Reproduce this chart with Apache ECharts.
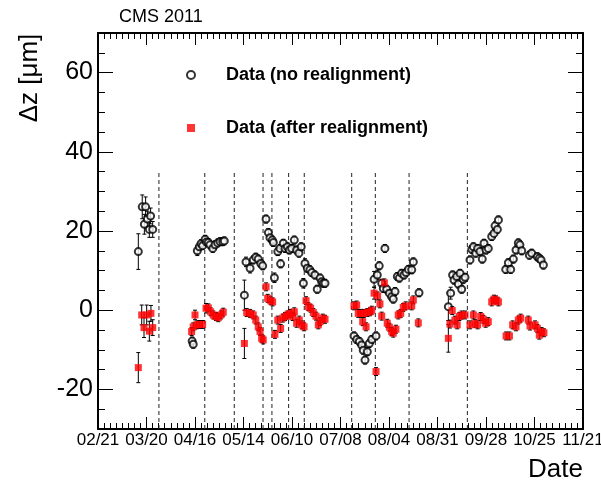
<!DOCTYPE html>
<html><head><meta charset="utf-8">
<script src="https://cdn.jsdelivr.net/npm/echarts@6/dist/echarts.min.js"></script>
<style>html,body{margin:0;padding:0;background:#fff}#c{width:601px;height:492px}</style>
</head><body><div id="c"></div>
<script>
// x = days since 02/21/2011
const tickLabels = ['02/21','03/20','04/16','05/14','06/10','07/08','08/04','08/31','09/28','10/25','11/21'];

const noRealignDays = [
  22.7,24.9,26.1,26.8,27.8,28.9,29.6,30.8,
  53.0,53.6,55.9,57.0,58.0,58.9,60.3,61.0,62.1,63.0,64.6,65.9,67.4,68.7,70.2,71.1,
  82.4,83.3,85.6,87.4,88.8,90.2,91.6,92.7,
  94.6,95.9,96.8,98.1,98.7,99.3,101.2,102.4,102.8,104.3,105.3,106.6,107.7,109.0,110.5,111.8,113.1,114.4,115.6,116.5,117.8,119.3,120.3,122.1,123.4,125.0,125.9,126.8,127.8,
  144.1,145.6,147.1,148.4,149.3,150.3,151.6,152.7,154.1,155.4,156.5,157.2,158.3,159.7,160.6,161.5,162.5,164.0,165.3,166.2,167.2,168.5,169.6,170.9,172.2,173.4,174.7,176.6,177.5,180.7,
  197.2,198.5,199.6,200.4,201.9,202.8,203.8,204.7,205.6,206.6,209.4,210.4,211.3,212.6,213.7,215.0,216.3,217.3,218.4,219.7,221.6,222.9,223.5,224.8,225.4,229.5,231.0,232.3,233.8,235.3,236.6,237.5,238.5,242.8,244.1,247.3,248.4,249.4,250.7
];
const noRealignValues = [
  14.8,26.1,21.7,26.1,23.0,20.4,23.8,20.4,
  -7.8,-8.6,15.0,16.0,16.8,16.3,17.9,17.2,17.1,16.5,15.6,16.5,17.0,17.3,17.3,17.5,
  3.8,12.2,10.6,12.7,13.4,12.9,11.8,11.2,
  23.0,19.6,18.3,17.7,17.1,8.2,14.8,15.6,11.7,16.9,15.6,16.0,15.2,15.6,17.7,15.2,14.4,16.0,6.8,11.8,10.6,10.2,9.5,8.9,5.3,8.1,7.2,6.8,6.8,
  -6.5,-7.4,-7.9,-8.8,-10.1,-12.6,-10.5,-8.4,-7.4,7.8,-6.5,8.9,11.2,6.8,5.5,15.6,5.3,4.3,3.4,2.8,4.7,8.5,8.1,9.3,8.9,9.5,10.3,10.2,12.2,4.4,
  0.9,4.3,8.9,7.6,8.5,6.6,9.3,5.3,7.8,8.3,12.7,15.4,16.0,14.4,15.6,14.8,12.9,16.9,15.2,15.6,18.6,19.4,21.3,20.4,22.8,10.3,12.0,10.3,12.9,15.2,17.0,16.5,15.0,13.9,14.4,13.5,13.1,12.7,11.4
];
const noRealignErrors = [
  4.5,3.0,2.5,2.5,2.0,2.0,2.0,2.0,
  1,1,1.2,1,1,1,1,1,1,1,1,1,1,1,1,1,
  3.8,1.2,1.2,1,1,1,1,1,
  1,1,1,1,1,1.2,1,1,1,1,1,1,1,1,1,1,1,1,1.2,1.2,1,1,1,1,1,1,1,1,1,
  1,1,1,1,1,1,1,1,1,2.0,1,1.2,1,1,1,1,1,1,1,1,1,1,1,1,1,1,1,1,1,1,
  3.5,1.5,1,1,1,1,1,1,1,1,1,1,1,1,1,1,1,1,1,1,1,1,1,1,1,1,1,1,1,1,1,1,1,1,1,1,1,1,1
];

const afterRealignDays = [
  22.7,24.6,25.9,27.4,28.9,29.8,30.8,
  52.7,53.6,54.6,55.5,57.0,58.9,60.8,62.1,63.4,64.9,66.4,67.7,69.2,70.5,
  82.4,83.7,85.6,87.4,88.8,90.2,91.2,92.1,93.0,
  94.6,95.5,97.2,98.3,99.6,101.2,102.8,104.0,105.3,106.6,108.1,109.6,110.5,111.8,113.3,114.7,116.0,117.1,118.4,119.7,121.2,122.7,124.0,125.0,126.5,127.8,
  144.1,145.6,146.5,147.9,149.0,149.7,150.9,151.6,153.1,154.1,155.4,156.5,157.4,158.7,159.7,161.2,162.8,164.0,165.3,166.2,167.7,169.0,170.4,171.8,173.2,176.6,177.5,180.3,
  197.2,198.1,199.4,200.9,202.2,203.4,204.7,206.6,209.4,211.3,212.2,213.7,215.4,216.9,218.2,219.7,221.6,222.9,224.0,225.4,229.7,231.6,233.4,235.3,236.6,237.9,242.2,243.2,246.0,247.3,248.4,249.7,251.0
];
const afterRealignValues = [
  -14.5,-1.2,-4.4,-1.2,-5.3,-0.8,-4.4,
  -5.4,-4.2,-1.2,-3.7,-3.6,-3.6,0.5,0.6,-0.4,-1.2,-1.6,-1.9,-1.2,-0.5,
  -8.4,-0.6,-0.8,-1.2,-2.5,-4.2,-5.4,-7.1,-7.5,
  5.9,3.0,2.4,2.1,-6.1,-2.5,-4.6,-2.0,-1.6,-1.2,-0.8,-1.6,-0.4,-3.3,-2.5,-3.7,-4.2,2.4,0.9,0.5,-0.6,-1.5,-3.7,-2.9,-2.0,-2.3,
  1.1,1.3,-0.8,-0.8,-2.9,-0.8,-4.2,-0.6,-0.4,0.0,4.3,-15.5,3.6,1.6,-1.5,6.9,-3.3,-4.3,-5.4,-5.8,-4.8,-1.2,-0.8,0.7,1.1,1.1,2.6,-3.2,
  -7.1,-3.5,-0.1,-2.5,-3.7,-1.6,-1.2,-1.2,-3.7,-1.2,-3.3,-3.7,-1.6,-2.3,-3.3,-2.9,2.1,2.8,2.6,2.1,-6.5,-6.5,-3.7,-4.2,-2.5,-2.0,-2.5,-4.0,-3.7,-4.6,-6.3,-5.4,-5.7
];
const afterRealignErrors = [
  3.8,2.5,2.5,2.5,2.5,2.0,2.0,
  1,1,1.2,1,1,1,1.2,1,1,1,1,1,1,1,
  3.8,1,1,1,1,1,1,1,1,
  1,1,1,1,1,1,1,1,1,1,1,1,1,1,1,1,1,1,1,1,1,1,1,1,1,1,
  1,1,1,1,1,1,1,1,1,1,1.5,1,1,1,1,1,1,1,1,1,1,1,1,1,1,1,1,1,
  3.5,1,1,1,1,1,1,1,1,1,1,1,1,1,1,1,1,1,1,1,1,1,1,1,1,1,1,1,1,1,1,1,1
];

// vertical dashed separators (days) and their vertical extent (µm)
const separatorDays = [34.3,60.1,76.7,92.9,97.9,107.3,116.1,142.8,156.1,175.1,207.9];
const separatorRange = [-30, 35];

const FONT = 'Liberation Sans, Arial, Helvetica, sans-serif';
const chart = echarts.init(document.getElementById('c'), null, {renderer: 'canvas'});

function pairs(xs, ys) { return xs.map((x, i) => [x, ys[i]]); }
function triples(xs, ys, es) { return xs.map((x, i) => [x, ys[i], es[i]]); }

function errRender(params, api) {
  const x = api.value(0), y = api.value(1), e = api.value(2);
  const lo = api.coord([x, y - e]), hi = api.coord([x, y + e]);
  const c = 2;
  const style = {stroke: '#000', lineWidth: 1};
  return {type: 'group', children: [
    {type: 'line', shape: {x1: lo[0], y1: lo[1], x2: hi[0], y2: hi[1]}, style},
    {type: 'line', shape: {x1: lo[0] - c, y1: lo[1], x2: lo[0] + c, y2: lo[1]}, style},
    {type: 'line', shape: {x1: hi[0] - c, y1: hi[1], x2: hi[0] + c, y2: hi[1]}, style}
  ]};
}
function sepRender(params, api) {
  const x = api.value(0);
  const a = api.coord([x, separatorRange[0]]), b = api.coord([x, separatorRange[1]]);
  return {type: 'line', shape: {x1: a[0], y1: a[1], x2: b[0], y2: b[1]},
    style: {stroke: '#222', lineWidth: 1, lineDash: [4, 3]}};
}

const tickStyle = {color: '#000', width: 1};
const xBase = {
  type: 'value', min: 0, max: 273, interval: 27.3, gridIndex: 0,
  axisLine: {show: true, onZero: false, lineStyle: {color: '#000', width: 2}},
  axisTick: {show: true, inside: true, length: 12, lineStyle: tickStyle},
  minorTick: {show: true, splitNumber: 8, length: 6, lineStyle: tickStyle},
  splitLine: {show: false}, minorSplitLine: {show: false}
};
const yMinor = {
  type: 'value', min: -30, max: 70, interval: 5, gridIndex: 0,
  axisLine: {show: true, onZero: false, lineStyle: {color: '#000', width: 2}},
  axisTick: {show: true, inside: true, length: 7, lineStyle: tickStyle},
  axisLabel: {show: false}, splitLine: {show: false}
};
const yMajor = {
  type: 'value', min: -20, max: 60, interval: 20, gridIndex: 1,
  axisLine: {show: false, onZero: false},
  axisTick: {show: true, inside: true, length: 15, lineStyle: tickStyle},
  splitLine: {show: false}
};

chart.setOption({
  animation: false,
  backgroundColor: '#fff',
  title: {text: 'CMS 2011', left: 114, top: 3,
    textStyle: {fontSize: 18, fontWeight: 'normal', color: '#000', fontFamily: FONT}},
  legend: {
    orient: 'vertical', left: 186, top: 65, padding: 0,
    itemWidth: 8, itemHeight: 8, itemGap: 33, selectedMode: false,
    textStyle: {fontSize: 18, fontWeight: 'bold', color: '#000', fontFamily: FONT, padding: [0, 0, 0, 26], lineHeight: 20},
    data: ['Data (no realignment)', 'Data (after realignment)']
  },
  grid: [
    {left: 98, right: 18, top: 33, bottom: 63, containLabel: false, outerBoundsMode: 'none'},
    {left: 98, right: 18, top: 72.6, bottom: 102.6, containLabel: false, outerBoundsMode: 'none'}
  ],
  xAxis: [
    Object.assign({}, xBase, {position: 'bottom',
      axisLabel: {show: true, margin: 3, fontSize: 17, color: '#000', fontFamily: FONT,
        showMinLabel: true, showMaxLabel: true,
        formatter: v => { const i = Math.round(v / 27.3); return tickLabels[i] || ''; }}}),
    Object.assign({}, xBase, {position: 'top', axisLabel: {show: false}}),
    {type: 'value', gridIndex: 1, min: 0, max: 273, show: false}
  ],
  yAxis: [
    Object.assign({}, yMinor, {position: 'left'}),
    Object.assign({}, yMinor, {position: 'right'}),
    Object.assign({}, yMajor, {position: 'left',
      axisLabel: {show: true, margin: 5, fontSize: 25, color: '#000', fontFamily: FONT}}),
    Object.assign({}, yMajor, {position: 'right', axisLabel: {show: false}})
  ],
  graphic: [
    {type: 'text', x: 30, y: 78, rotation: Math.PI / 2,
      style: {text: 'Δz [μm]', align: 'center', verticalAlign: 'middle', fontSize: 26, fontFamily: FONT, fill: '#000'}},
    {type: 'text', x: 583, y: 470,
      style: {text: 'Date', align: 'right', verticalAlign: 'middle', fontSize: 26, fontFamily: FONT, fill: '#000'}}
  ],
  series: [
    {type: 'custom', name: 'separators', xAxisIndex: 0, yAxisIndex: 0, renderItem: sepRender,
      data: separatorDays.map(d => [d]), encode: {x: 0}, z: 1, silent: true},
    {type: 'custom', name: 'err-no', xAxisIndex: 0, yAxisIndex: 0, renderItem: errRender,
      data: triples(noRealignDays, noRealignValues, noRealignErrors), encode: {x: 0, y: 1}, z: 2, silent: true},
    {type: 'scatter', name: 'Data (no realignment)', xAxisIndex: 0, yAxisIndex: 0,
      symbol: 'emptyCircle', symbolSize: 7,
      itemStyle: {color: '#000', borderColor: '#000', borderWidth: 1},
      data: pairs(noRealignDays, noRealignValues), z: 3},
    {type: 'custom', name: 'err-after', xAxisIndex: 0, yAxisIndex: 0, renderItem: errRender,
      data: triples(afterRealignDays, afterRealignValues, afterRealignErrors), encode: {x: 0, y: 1}, z: 4, silent: true},
    {type: 'scatter', name: 'Data (after realignment)', xAxisIndex: 0, yAxisIndex: 0,
      symbol: 'rect', symbolSize: 7,
      itemStyle: {color: '#ff0000'},
      data: pairs(afterRealignDays, afterRealignValues), z: 5}
  ]
});
</script></body></html>
